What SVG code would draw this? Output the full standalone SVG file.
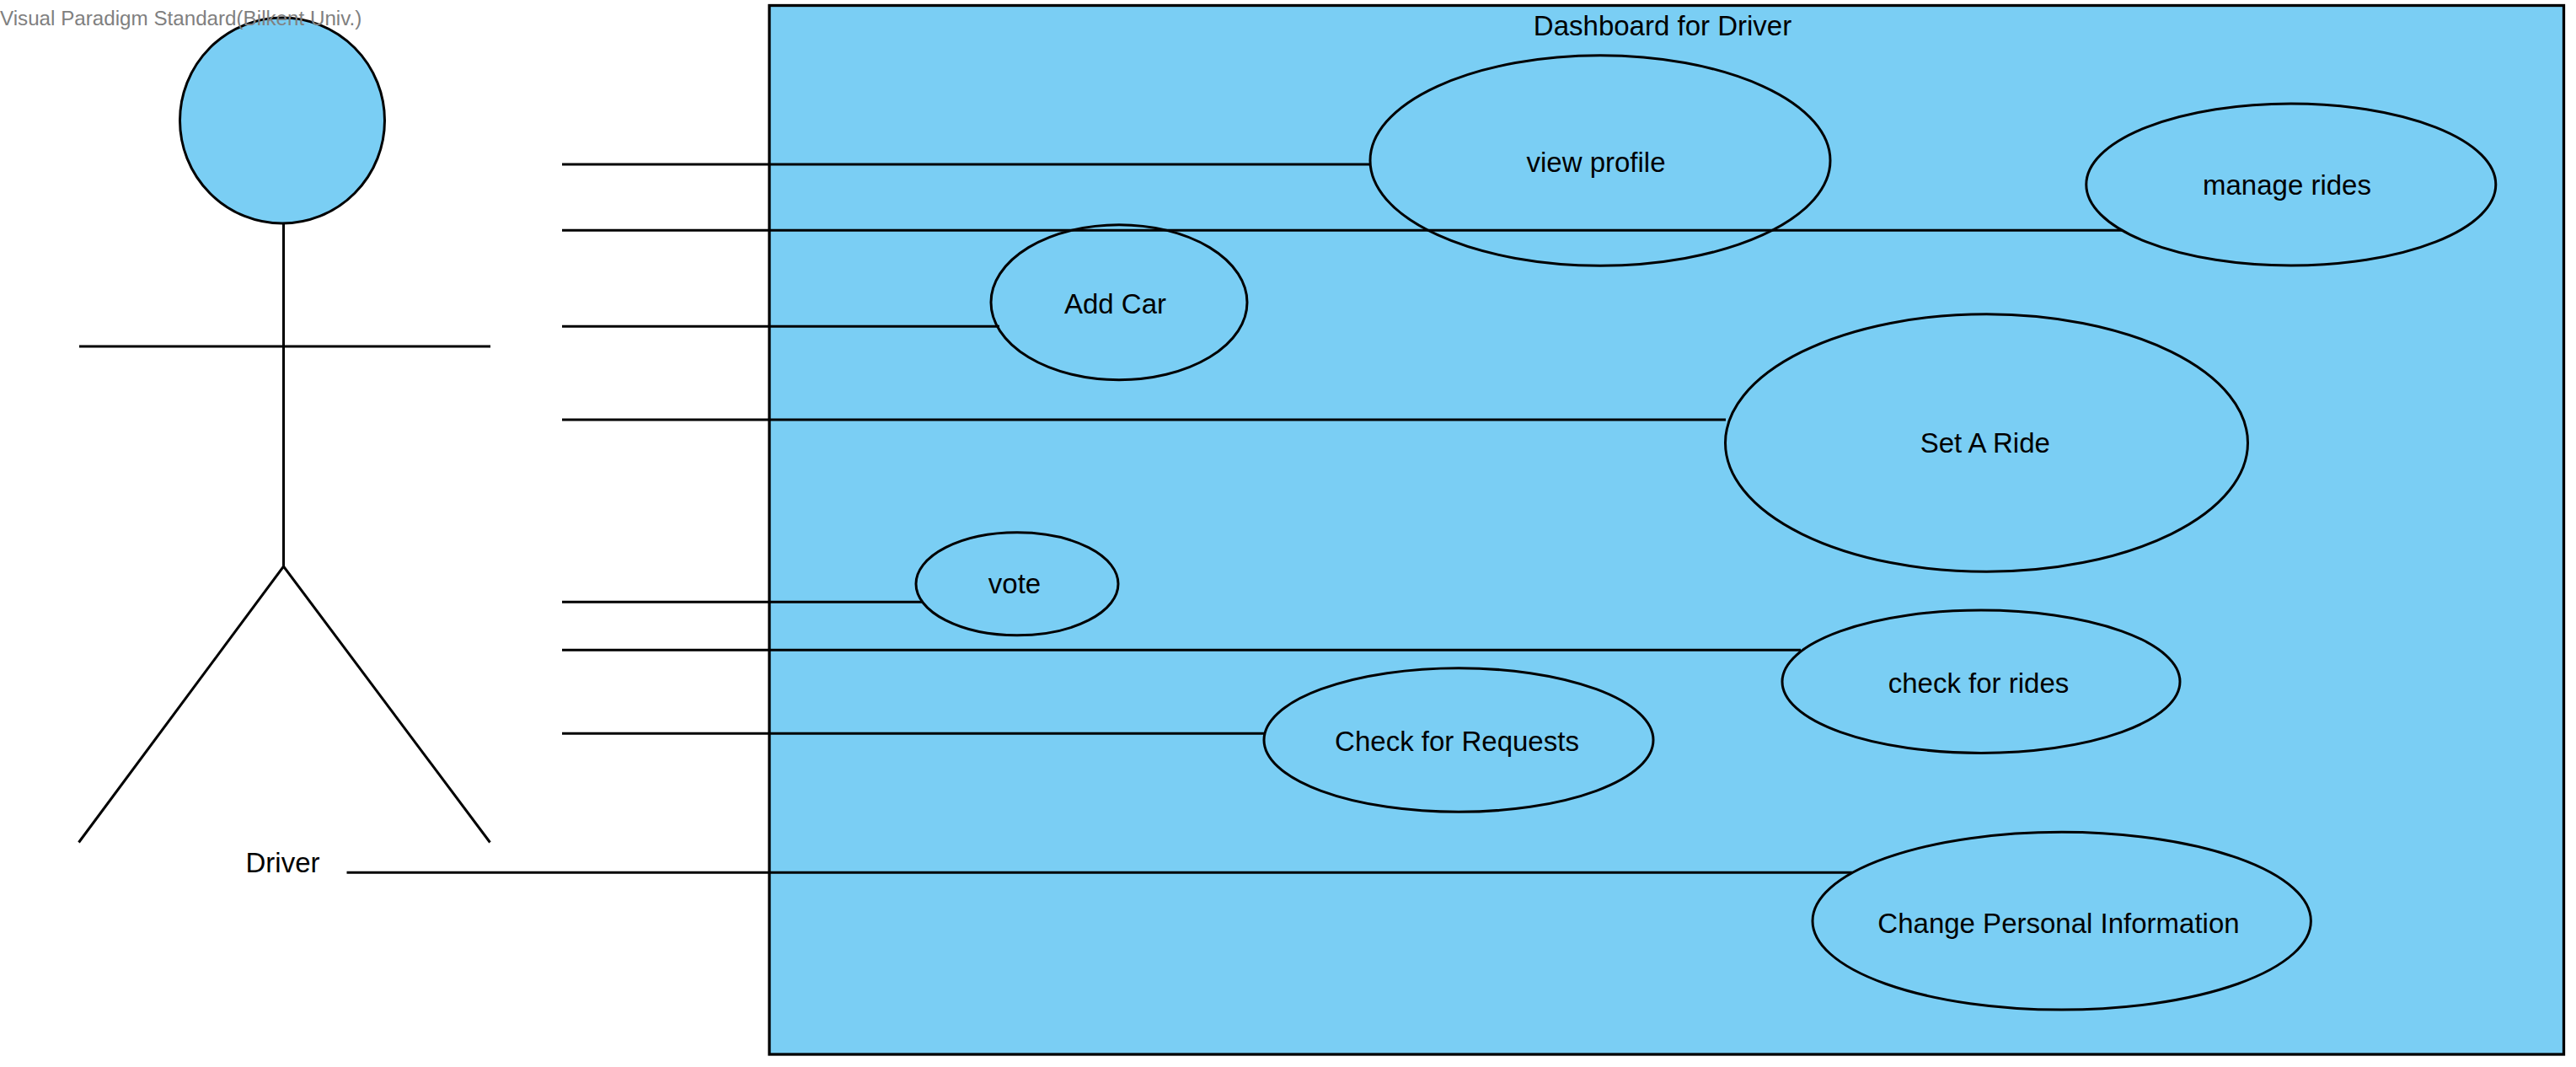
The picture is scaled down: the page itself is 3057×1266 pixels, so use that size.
<svg xmlns="http://www.w3.org/2000/svg" width="3057" height="1266" viewBox="0 0 3057 1266">
<style>
.s{stroke:#000;stroke-width:3;fill:none}
.f{fill:#7ACEF4;stroke:#000;stroke-width:3}
.t{font-family:"Liberation Sans",Arial,sans-serif;font-size:33px;fill:#000;text-anchor:middle}
.w{font-family:"Liberation Sans",Arial,sans-serif;font-size:24.2px;fill:#808080}
</style>
<rect width="3057" height="1266" fill="#fff"/>
<g id="system">
<rect class="f" style="stroke-width:3.3" x="913" y="6.500" width="2129.500" height="1244.500"/>
<text class="t" x="1973" y="41.500">Dashboard for Driver</text>
</g>
<g id="connectors">
<line class="s" x1="667" y1="195" x2="1627" y2="195"/>
<line class="s" x1="667" y1="273.300" x2="2518" y2="273.300"/>
<line class="s" x1="667" y1="387.300" x2="1186" y2="387.300"/>
<line class="s" x1="667" y1="498" x2="2048" y2="498"/>
<line class="s" x1="667" y1="714.300" x2="1094" y2="714.300"/>
<line class="s" x1="667" y1="771.300" x2="2137" y2="771.300"/>
<line class="s" x1="667" y1="870.300" x2="1500" y2="870.300"/>
<line class="s" x1="411.500" y1="1035.300" x2="2198" y2="1035.300"/>
</g>
<g id="actor-driver">
<ellipse class="f" cx="335" cy="143" rx="121.500" ry="122"/>
<path class="s" d="M336.500 265V672M94 411H582M93.500 999.500L336.500 672L581.500 999.500"/>
<text class="t" x="335.500" y="1035">Driver</text>
</g>
<g id="uc-view-profile">
<ellipse class="s" cx="1899" cy="190.500" rx="273" ry="124.700"/>
<text class="t" x="1894" y="204">view profile</text>
</g>
<g id="uc-manage-rides">
<ellipse class="s" cx="2718.800" cy="219" rx="243" ry="96"/>
<text class="t" x="2714" y="230.500">manage rides</text>
</g>
<g id="uc-add-car">
<ellipse class="s" cx="1328" cy="358.700" rx="152" ry="92"/>
<text class="t" x="1323.500" y="371.700">Add Car</text>
</g>
<g id="uc-set-a-ride">
<ellipse class="s" cx="2357.500" cy="525.500" rx="310" ry="152.800"/>
<text class="t" x="2355.800" y="536.500">Set A Ride</text>
</g>
<g id="uc-vote">
<ellipse class="s" cx="1207" cy="692.800" rx="120" ry="61"/>
<text class="t" x="1204" y="704">vote</text>
</g>
<g id="uc-check-for-rides">
<ellipse class="s" cx="2351" cy="808.700" rx="236" ry="84.700"/>
<text class="t" x="2348" y="821.700">check for rides</text>
</g>
<g id="uc-check-for-requests">
<ellipse class="s" cx="1731" cy="878" rx="231" ry="85.300"/>
<text class="t" x="1729" y="890.700">Check for Requests</text>
</g>
<g id="uc-change-personal-information">
<ellipse class="s" cx="2446.700" cy="1092.700" rx="295.700" ry="105.400"/>
<text class="t" x="2443" y="1106.700">Change Personal Information</text>
</g>
<text class="w" x="0" y="30">Visual Paradigm Standard(Bilkent Univ.)</text>
</svg>
